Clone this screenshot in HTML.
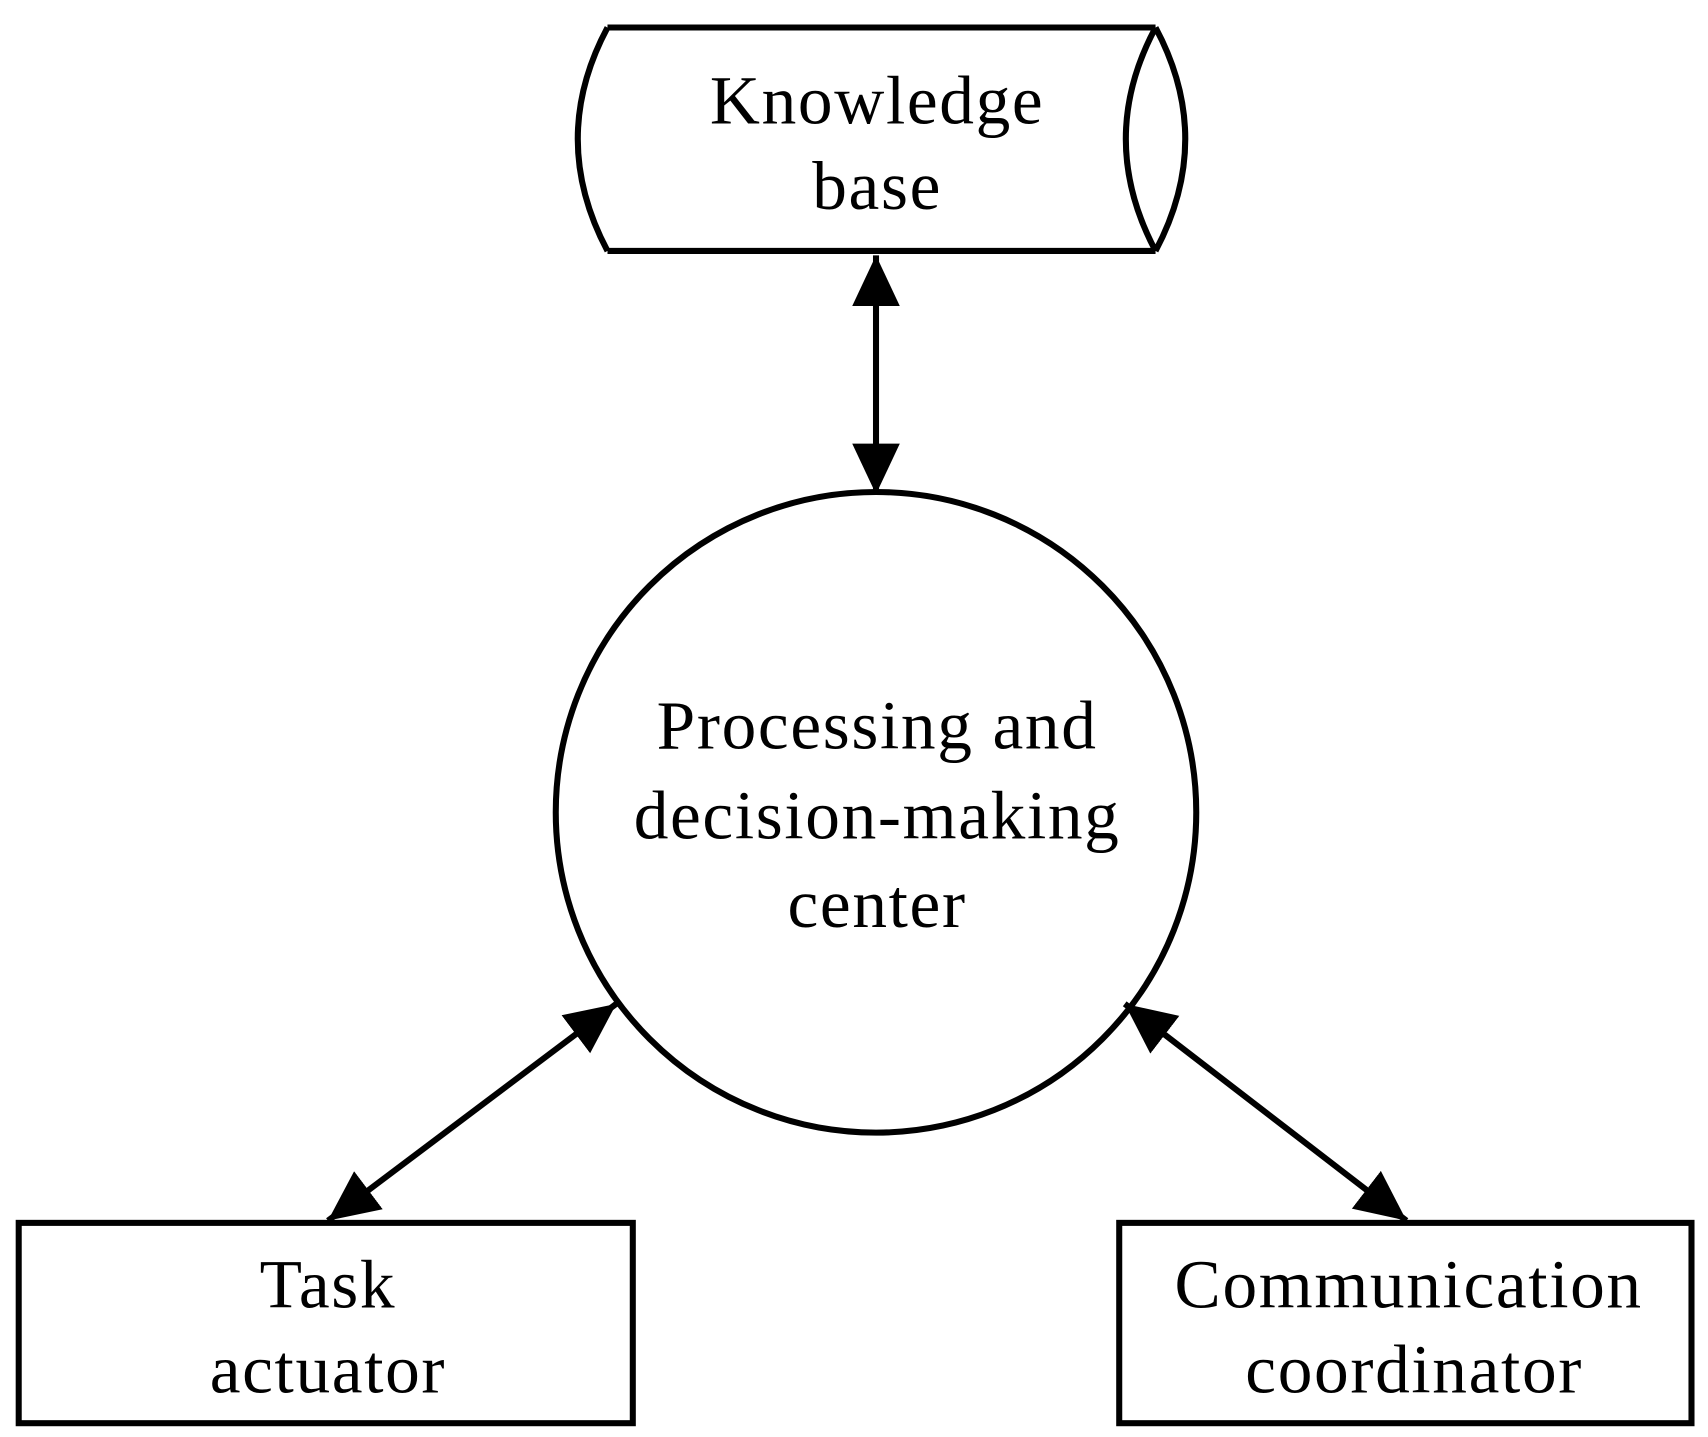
<!DOCTYPE html>
<html><head><style>html,body{margin:0;padding:0;background:#fff}</style></head>
<body>
<svg width="1708" height="1432" viewBox="0 0 1552 1301" preserveAspectRatio="none" xmlns="http://www.w3.org/2000/svg">
<defs>
<marker id="a" viewBox="0 0 10 10" refX="10" refY="5" markerWidth="46" markerHeight="46" markerUnits="userSpaceOnUse" orient="auto-start-reverse">
<path d="M0,0.3 L10,5 L0,9.7 Z" fill="#000"/>
</marker>
</defs>
<g fill="none" stroke="#000" stroke-width="5.5">
<path d="M552,25 L1050,25 M552,228 L1050,228"/>
<path d="M552,25 Q498,126 552,228"/>
<path d="M1050,25 Q996,126 1050,228"/>
<path d="M1050,25 Q1104,126 1050,228"/>
<circle cx="796" cy="738" r="291"/>
<rect x="17" y="1111" width="558" height="182"/>
<rect x="1017" y="1111" width="520" height="182"/>
<line x1="796" y1="232" x2="796" y2="449" marker-start="url(#a)" marker-end="url(#a)"/>
<line x1="560" y1="912" x2="298" y2="1109" marker-start="url(#a)" marker-end="url(#a)"/>
<line x1="1022" y1="912" x2="1278" y2="1109" marker-start="url(#a)" marker-end="url(#a)"/>
</g>
<g font-family="'Liberation Serif',serif" font-size="63" text-anchor="middle" fill="#000" letter-spacing="1.5">
<text x="797" y="112">Knowledge</text>
<text x="797" y="190">base</text>
<text x="797" y="680">Processing and</text>
<text x="797" y="762">decision-making</text>
<text x="797" y="842">center</text>
<text x="298" y="1188">Task</text>
<text x="298" y="1265">actuator</text>
<text x="1280" y="1188">Communication</text>
<text x="1285" y="1265">coordinator</text>
</g>
</svg>
</body></html>
